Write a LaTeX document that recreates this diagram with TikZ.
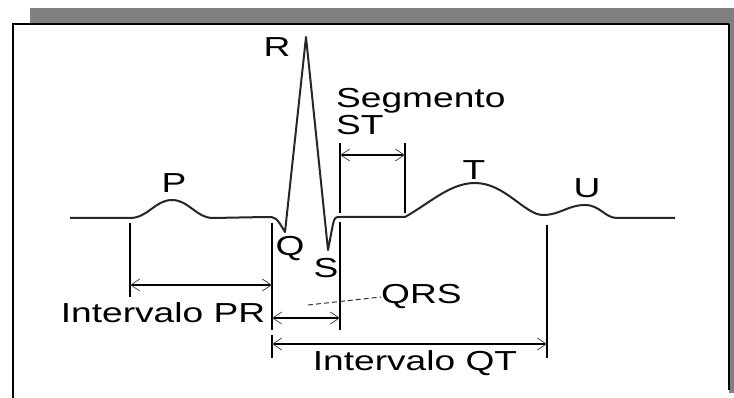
\documentclass[tikz,border=0pt]{standalone}
\usepackage{fontspec}
\setmainfont[FakeStretch=1.35]{Liberation Sans}
\usetikzlibrary{arrows.meta}

\tikzset{
  trace/.style={line width=2pt, draw=black!85, line join=round},
  tick/.style={line width=1.6pt, black},
  dim/.style={line width=1.4pt,
    {Straight Barb[length=9pt,width=12pt,line width=0.8pt,color=black!70]}-{Straight Barb[length=9pt,width=12pt,line width=0.8pt,color=black!70]}},
  lab/.style={inner sep=0pt, anchor=base, font=\fontsize{27.5}{30}\selectfont}
}

\begin{document}
\begin{tikzpicture}[x=1pt,y=-1pt]
  \useasboundingbox (0,0) rectangle (734,398);

  % Frame and shadow
  \fill[gray] (30,8) rectangle (734,24);
  \fill[gray] (729,8) rectangle (734,393);
  \fill[white] (13,24) rectangle (729,398);
  \draw[line width=2pt] (13,398) -- (13,24) -- (729,24);
  \draw[line width=1.3pt] (729,24) -- (729,390);

  % ECG trace
  \draw[trace] (70,218) -- (130,218)
    .. controls (148,218) and (155,200) .. (172,200)
    .. controls (189,200) and (196,218) .. (213,218)
    -- (266,217) .. controls (276,217) .. (285,232)
    -- (306,37) -- (328,250) -- (333,224)
    .. controls (335,217) .. (341,217) -- (405,217)
    .. controls (430,203) and (450,183) .. (475,183)
    .. controls (505,183) and (525,215) .. (543,215)
    .. controls (560,215) and (568,205) .. (585,205)
    .. controls (600,205) and (605,218) .. (617,218) -- (675,218);

  % Ticks
  \draw[tick] (130,223) -- (130,297);
  \draw[tick] (272,223) -- (272,330);
  \draw[tick] (272,335) -- (272,358);
  \draw[tick] (340,143) -- (340,213);
  \draw[tick] (340,222) -- (340,330);
  \draw[tick] (405,143) -- (405,213);
  \draw[tick] (547,225) -- (547,358);

  % Dimension ends
  \coordinate (pr1) at (130,285);  \coordinate (pr2) at (272,285);
  \coordinate (qrs1) at (272,318); \coordinate (qrs2) at (340,318);
  \coordinate (qt1) at (272,344);  \coordinate (qt2) at (547,344);
  \coordinate (st1) at (340,155);  \coordinate (st2) at (405,155);
  \coordinate (lead) at (308,305);

  \draw[dim] (pr1) -- (pr2);
  \draw[dim] (qrs1) -- (qrs2);
  \draw[dim] (qt1) -- (qt2);
  \draw[dim] (st1) -- (st2);

  % Labels
  \node[lab] (labR) at (277,57) {R};
  \node[lab] (labP) at (174,193) {P};
  \node[lab] (labQ) at (290,256) {Q};
  \node[lab] (labS) at (326,277) {S};
  \node[lab] (labT) at (474,180) {T};
  \node[lab] (labU) at (587,198) {U};
  \node[lab, anchor=base west] (labSeg) at (336,108) {Segmento};
  \node[lab, anchor=base west] (labST) at (336,135) {ST};
  \node[lab, anchor=base west] (labQRS) at (381,304) {QRS};
  \node[lab] (labPR) at (163,323) {Intervalo PR};
  \node[lab] (labQT) at (415,370) {Intervalo QT};

  \draw[line width=1pt, black!80, dash pattern=on 5pt off 3pt] (lead) -- (labQRS.west);
\end{tikzpicture}
\end{document}
